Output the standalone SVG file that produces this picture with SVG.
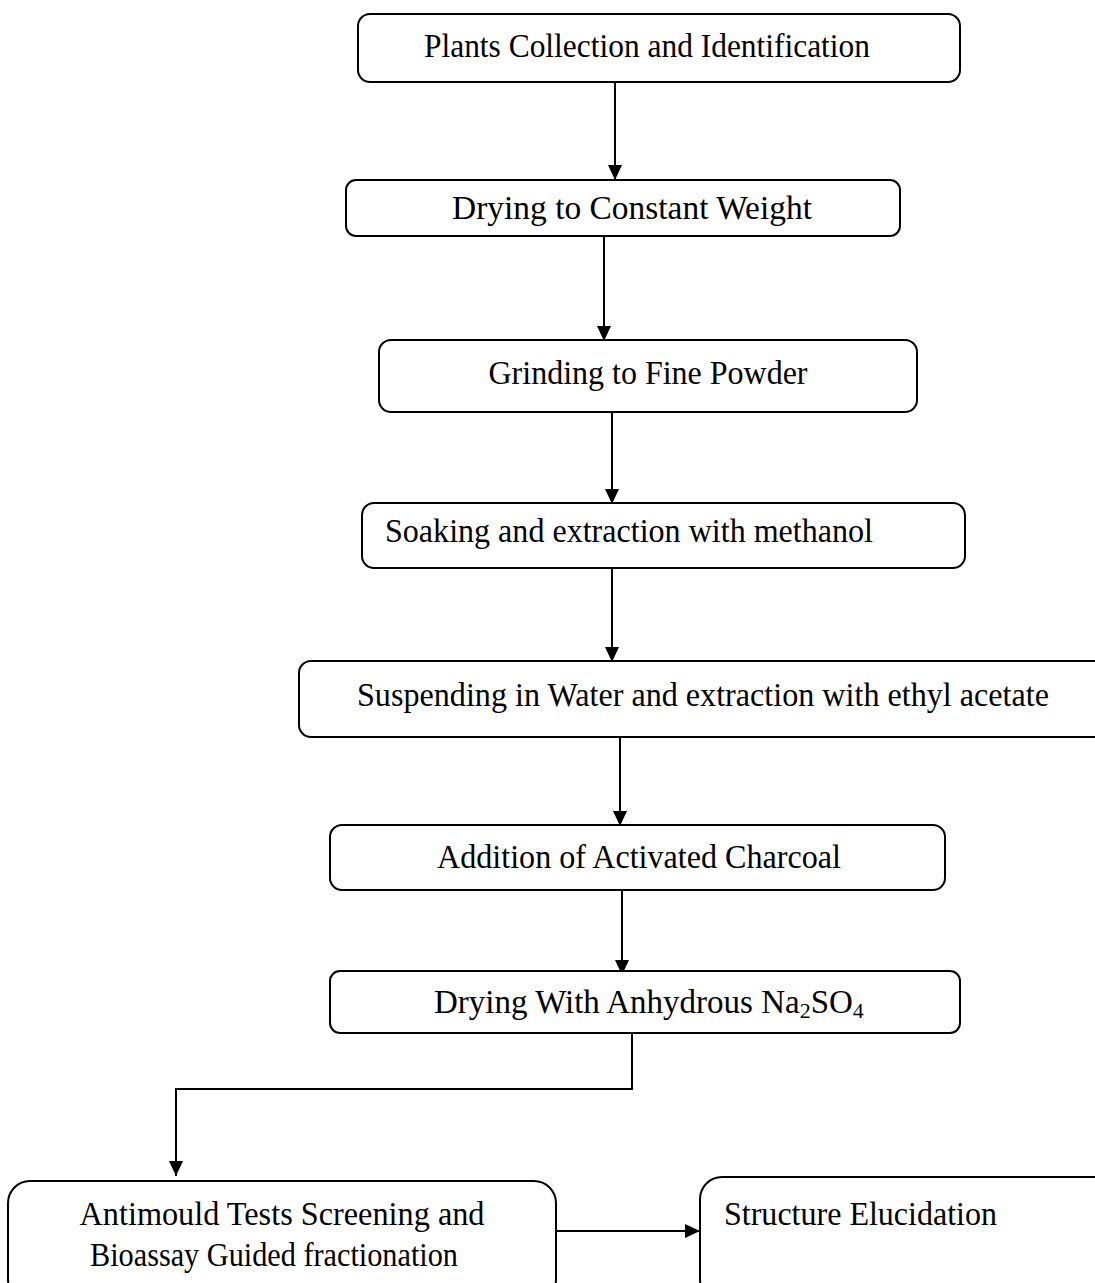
<svg xmlns="http://www.w3.org/2000/svg" width="1095" height="1283" viewBox="0 0 1095 1283">
<style>
.box{fill:#fff;stroke:#000;stroke-width:2}
.t{font-family:"Liberation Serif","Times New Roman",serif;font-size:33px;fill:#000}
.c{text-anchor:middle}
.ln{fill:none;stroke:#000;stroke-width:2}
</style>
<defs>
<marker id="ah" viewBox="0 0 15 14" refX="15" refY="7" markerWidth="15" markerHeight="14" markerUnits="userSpaceOnUse" orient="auto">
<path d="M0,0 L15,7 L0,14 Z" fill="#000"/>
</marker>
</defs>
<rect width="1095" height="1283" fill="#fff"/>
<g id="connectors">
<line class="ln" x1="615" y1="82" x2="615" y2="180" marker-end="url(#ah)"/>
<line class="ln" x1="604" y1="236" x2="604" y2="341" marker-end="url(#ah)"/>
<line class="ln" x1="612" y1="412" x2="612" y2="504" marker-end="url(#ah)"/>
<line class="ln" x1="612" y1="568" x2="612" y2="662" marker-end="url(#ah)"/>
<line class="ln" x1="620" y1="737" x2="620" y2="826" marker-end="url(#ah)"/>
<line class="ln" x1="622" y1="890" x2="622" y2="975" marker-end="url(#ah)"/>
<polyline class="ln" points="632,1033 632,1089 176,1089 176,1176" marker-end="url(#ah)"/>
<line class="ln" x1="556" y1="1231" x2="700" y2="1231" marker-end="url(#ah)"/>
</g>
<g id="n1"><rect class="box" x="358" y="14" width="602" height="68" rx="12"/><text class="t c" x="647" y="57" textLength="446" lengthAdjust="spacingAndGlyphs">Plants Collection and Identification</text></g>
<g id="n2"><rect class="box" x="346" y="180" width="554" height="56" rx="10"/><text class="t c" x="632" y="219" textLength="360" lengthAdjust="spacingAndGlyphs">Drying to Constant Weight</text></g>
<g id="n3"><rect class="box" x="379" y="340" width="538" height="72" rx="12"/><text class="t c" x="648" y="384" textLength="319" lengthAdjust="spacingAndGlyphs">Grinding to Fine Powder</text></g>
<g id="n4"><rect class="box" x="362" y="503" width="603" height="65" rx="12"/><text class="t" x="385" y="542" textLength="488" lengthAdjust="spacingAndGlyphs">Soaking and extraction with methanol</text></g>
<g id="n5"><rect class="box" x="299" y="661" width="820" height="76" rx="12"/><text class="t c" x="703" y="706" textLength="692" lengthAdjust="spacingAndGlyphs">Suspending in Water and extraction with ethyl acetate</text></g>
<g id="n6"><rect class="box" x="330" y="825" width="615" height="65" rx="12"/><text class="t c" x="639" y="868" textLength="404" lengthAdjust="spacingAndGlyphs">Addition of Activated Charcoal</text></g>
<g id="n7"><rect class="box" x="330" y="971" width="630" height="62" rx="10"/><text class="t" x="434" y="1013">Drying With Anhydrous Na<tspan font-size="22" dy="5">2</tspan><tspan dy="-5">SO</tspan><tspan font-size="22" dy="5">4</tspan></text></g>
<g id="n8"><rect class="box" x="8" y="1181" width="548" height="120" rx="22"/><text class="t c" x="282" y="1225" textLength="405" lengthAdjust="spacingAndGlyphs">Antimould Tests Screening and</text><text class="t c" x="274" y="1266" textLength="368" lengthAdjust="spacingAndGlyphs">Bioassay Guided fractionation</text></g>
<g id="n9"><rect class="box" x="700" y="1177" width="420" height="124" rx="22"/><text class="t" x="724" y="1225" textLength="273" lengthAdjust="spacingAndGlyphs">Structure Elucidation</text></g>
</svg>
